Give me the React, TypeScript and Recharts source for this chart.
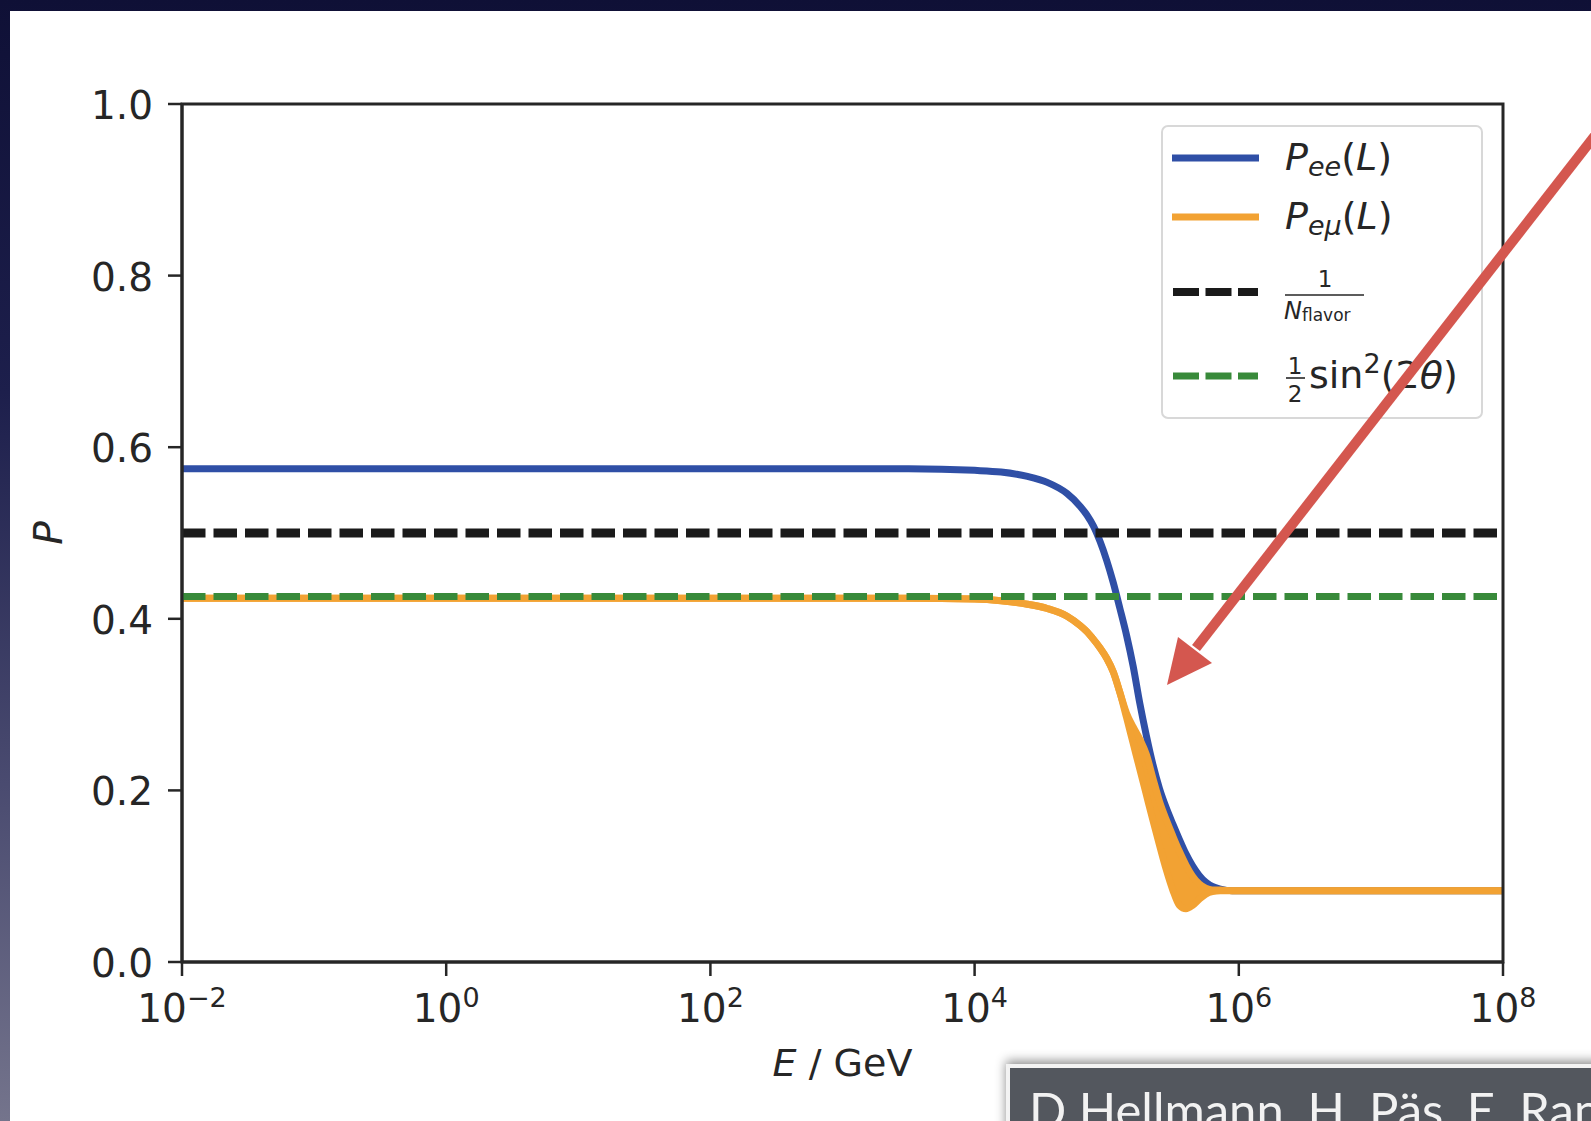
import { ComposedChart, Line, Area, XAxis, YAxis, Legend, ReferenceArea } from "recharts";

// x axis is log10(E / GeV)
const logE = [-2, 0, 2, 3, 3.5, 4, 4.2, 4.4, 4.55, 4.7, 4.8, 4.85, 4.9, 4.95, 5.0, 5.05, 5.1, 5.15, 5.2, 5.25, 5.3, 5.35, 5.4, 5.45, 5.5, 5.55, 5.6, 5.65, 5.7, 5.75, 5.8, 5.86, 5.95, 6.5, 8];
const pee = [0.575, 0.575, 0.575, 0.575, 0.575, 0.573, 0.571, 0.566, 0.559, 0.546, 0.531, 0.521, 0.508, 0.49, 0.468, 0.442, 0.412, 0.381, 0.345, 0.302, 0.264, 0.23, 0.202, 0.18, 0.161, 0.143, 0.126, 0.112, 0.101, 0.093, 0.088, 0.085, 0.083, 0.083, 0.083];
// P_emu oscillates fast near the drop: lower / upper envelope
const pemuLow = [0.424, 0.424, 0.424, 0.424, 0.424, 0.423, 0.421, 0.417, 0.412, 0.403, 0.392, 0.385, 0.376, 0.366, 0.354, 0.338, 0.314, 0.285, 0.255, 0.225, 0.195, 0.165, 0.136, 0.108, 0.084, 0.066, 0.062, 0.066, 0.073, 0.079, 0.082, 0.083, 0.083, 0.083, 0.083];
const pemuHigh = [0.424, 0.424, 0.424, 0.424, 0.424, 0.423, 0.421, 0.417, 0.412, 0.403, 0.392, 0.385, 0.376, 0.366, 0.354, 0.338, 0.314, 0.29, 0.274, 0.26, 0.242, 0.214, 0.187, 0.166, 0.147, 0.129, 0.113, 0.1, 0.091, 0.086, 0.084, 0.084, 0.083, 0.083, 0.083];
const nFlavor = 2;
const halfSin2 = 0.426;

const xTicks = [-2, 0, 2, 4, 6, 8];
const yTicks = [0, 0.2, 0.4, 0.6, 0.8, 1.0];

const rows = logE.map((x, i) => ({
  x,
  pee: pee[i],
  pemu: [pemuLow[i], pemuHigh[i]],
  flavor: 1 / nFlavor,
  mix: halfSin2,
}));

const FONT = "DejaVu Sans";
const INK = "#262626";
const BLUE = "#2f4fa6";
const ORANGE = "#f2a233";
const GREEN = "#388a3a";
const BLACK = "#1a1a1a";

const XTick = (props: any) => {
  const { x, y, payload } = props;
  const e = payload.value;
  const sup = e < 0 ? "\u2212" + Math.abs(e) : String(e);
  return (
    <text x={x} y={y + 44} textAnchor="middle" fontFamily={FONT} fontSize={39} fill={INK}>
      <tspan>10</tspan>
      <tspan dy={-15} fontSize={27}>{sup}</tspan>
    </text>
  );
};

const YTick = (props: any) => {
  const { x, y, payload } = props;
  return (
    <text x={x} y={y + 15} textAnchor="end" fontFamily={FONT} fontSize={39} fill={INK}>
      {payload.value.toFixed(1)}
    </text>
  );
};

const LegendBox = () => (
  <div
    style={{
      width: 322,
      height: 294,
      boxSizing: "border-box",
      border: "2px solid #d8d8d8",
      borderRadius: 7,
      background: "#fff",
    }}
  >
    <svg width={318} height={290} style={{ display: "block" }}>
      <g transform="translate(-2,-2)" fontFamily={FONT} fill={INK}>
        <line x1={11} x2={98} y1={33} y2={33} stroke={BLUE} strokeWidth={7} />
        <text x={124} y={45} fontSize={38}>
          <tspan fontStyle="italic">P</tspan>
          <tspan fontStyle="italic" fontSize={27} dy={6}>ee</tspan>
          <tspan dy={-6}>(</tspan>
          <tspan fontStyle="italic">L</tspan>
          <tspan>)</tspan>
        </text>

        <line x1={11} x2={98} y1={92} y2={92} stroke={ORANGE} strokeWidth={7} />
        <text x={124} y={104} fontSize={38}>
          <tspan fontStyle="italic">P</tspan>
          <tspan fontStyle="italic" fontSize={27} dy={6}>eμ</tspan>
          <tspan dy={-6}>(</tspan>
          <tspan fontStyle="italic">L</tspan>
          <tspan>)</tspan>
        </text>

        <line x1={12} x2={97} y1={167} y2={167} stroke={BLACK} strokeWidth={8} strokeDasharray="26 6.5" />
        <text x={164} y={162} fontSize={23} textAnchor="middle">1</text>
        <line x1={124} x2={203} y1={170} y2={170} stroke={INK} strokeWidth={1.6} />
        <text x={123} y={194} fontSize={24}>
          <tspan fontStyle="italic">N</tspan>
          <tspan fontSize={17} dy={2}>flavor</tspan>
        </text>

        <line x1={12} x2={97} y1={251} y2={251} stroke={GREEN} strokeWidth={7} strokeDasharray="26 6.5" />
        <text x={134} y={249} fontSize={23} textAnchor="middle">1</text>
        <line x1={125} x2={144} y1={253} y2={253} stroke={INK} strokeWidth={1.6} />
        <text x={134} y={277} fontSize={23} textAnchor="middle">2</text>
        <text x={148} y={263} fontSize={38}>
          <tspan>sin</tspan>
          <tspan fontSize={27} dy={-15}>2</tspan>
          <tspan dy={15}>(2</tspan>
          <tspan fontStyle="italic">θ</tspan>
          <tspan>)</tspan>
        </text>
      </g>
    </svg>
  </div>
);

const XTitle = (props: any) => {
  const { viewBox } = props;
  return (
    <text x={viewBox.x + viewBox.width / 2} y={viewBox.y + 114} textAnchor="middle" fontFamily={FONT} fontSize={38} fill={INK}>
      <tspan fontStyle="italic">E</tspan>
      <tspan> / GeV</tspan>
    </text>
  );
};

const YTitle = (props: any) => {
  const { viewBox } = props;
  const cx = viewBox.x + 30;
  const cy = viewBox.y + viewBox.height / 2;
  return (
    <text x={cx} y={cy} transform={`rotate(-90 ${cx} ${cy})`} textAnchor="middle" fontFamily={FONT} fontSize={39} fontStyle="italic" fill={INK}>
      P
    </text>
  );
};

export default function App() {
  return (
    <div
      style={{
        position: "absolute",
        left: 0,
        top: 0,
        width: 1591,
        height: 1121,
        overflow: "hidden",
        background: "linear-gradient(to bottom, #0f1036 0%, #1d1f4c 35%, #4a4b70 70%, #74748c 100%)",
      }}
    >
      <div style={{ position: "absolute", left: 10, top: 11, right: 0, bottom: 0, background: "#fff" }} />

      <div style={{ position: "absolute", left: 0, top: 0 }}>
        <ComposedChart width={1591} height={1121} data={rows} margin={{ top: 104, right: 88, bottom: 99, left: 32 }}>
          <XAxis
            dataKey="x"
            type="number"
            domain={[-2, 8]}
            ticks={xTicks}
            tick={<XTick />}
            tickSize={14}
            tickMargin={2}
            height={60}
            axisLine={{ stroke: INK, strokeWidth: 3 }}
            tickLine={{ stroke: INK, strokeWidth: 2.5 }}
            label={{ content: <XTitle /> }}
          />
          <YAxis
            type="number"
            domain={[0, 1]}
            ticks={yTicks}
            tick={<YTick />}
            tickSize={14}
            tickMargin={15}
            width={150}
            axisLine={{ stroke: INK, strokeWidth: 3 }}
            tickLine={{ stroke: INK, strokeWidth: 2.5 }}
            label={{ content: <YTitle /> }}
          />
          {/* blue drawn as an unfilled area so that the orange band sits above it */}
          <Area dataKey="pee" type="monotone" stroke={BLUE} strokeWidth={7} fill="none" dot={false} activeDot={false} isAnimationActive={false} />
          <Area dataKey="pemu" type="monotone" stroke={ORANGE} strokeWidth={7} fill={ORANGE} fillOpacity={1} dot={false} activeDot={false} isAnimationActive={false} />
          <Line dataKey="flavor" type="linear" stroke={BLACK} strokeWidth={9} strokeDasharray="23.5 8" dot={false} activeDot={false} isAnimationActive={false} />
          <Line dataKey="mix" type="linear" stroke={GREEN} strokeWidth={7} strokeDasharray="23.5 8" dot={false} activeDot={false} isAnimationActive={false} />
          <ReferenceArea x1={-2} x2={8} y1={0} y2={1} fill="none" stroke={INK} strokeWidth={3} fillOpacity={0} />
          <Legend
            layout="vertical"
            align="center"
            verticalAlign="middle"
            wrapperStyle={{ left: 1161, top: 125, width: 322, height: 294 }}
            content={<LegendBox />}
          />
        </ComposedChart>
      </div>

      {/* caption box, bottom right */}
      <div
        style={{
          position: "absolute",
          left: 1006,
          top: 1064,
          width: 640,
          height: 100,
          boxSizing: "border-box",
          border: "4px solid #f3f3f3",
          background: "#53575e",
          boxShadow: "0 -3px 10px rgba(0,0,0,0.45)",
          overflow: "hidden",
        }}
      >
        <div
          style={{
            position: "absolute",
            left: 19,
            top: 17,
            whiteSpace: "nowrap",
            fontFamily: "Lato",
            fontSize: 49,
            lineHeight: "49px",
            color: "#f2f2f2",
          }}
        >
          D Hellmann, H. Päs, E. Rani
        </div>
      </div>

      {/* annotation arrow */}
      <svg width={1591} height={1121} style={{ position: "absolute", left: 0, top: 0, pointerEvents: "none" }}>
        <line x1={1600} y1={129} x2={1196} y2={648} stroke="#d4574f" strokeWidth={10} />
        <polygon points="1167,685 1178,637 1212,663" fill="#d4574f" />
      </svg>
    </div>
  );
}
